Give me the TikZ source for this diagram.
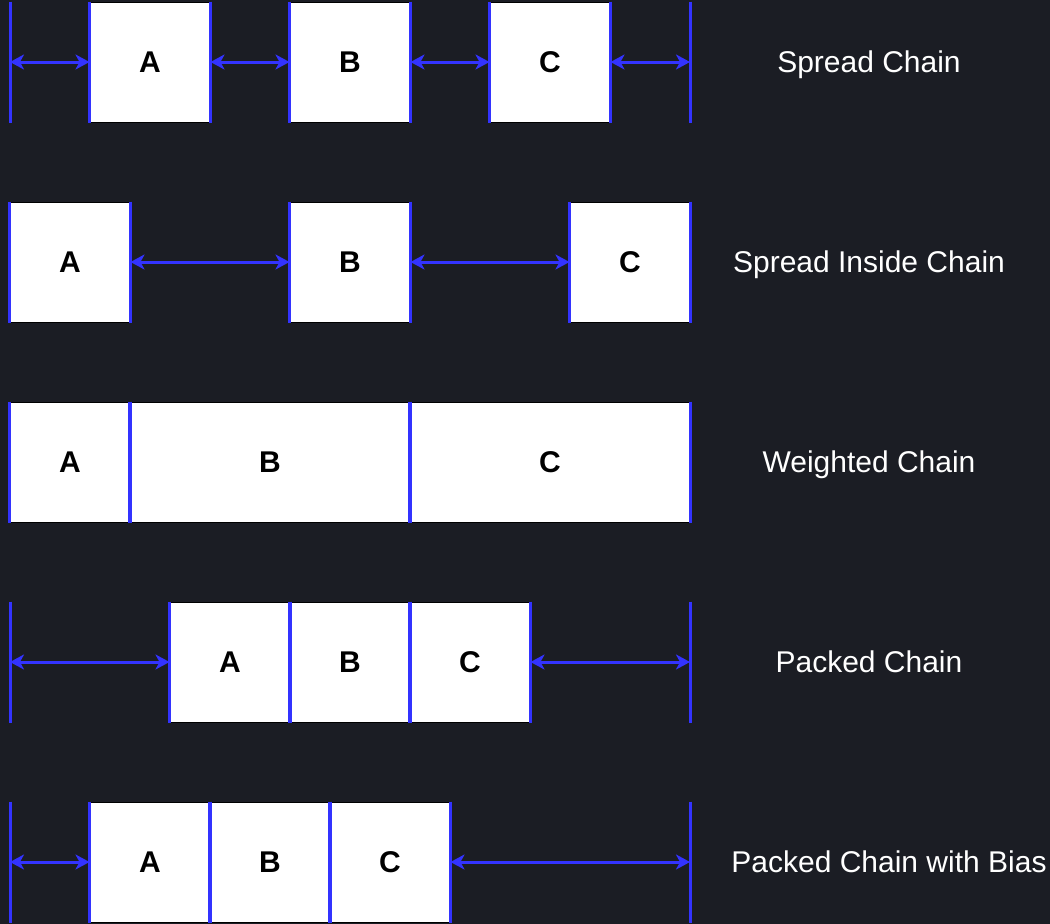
\documentclass[tikz,border=0pt]{standalone}
\usepackage{fontspec}
\setmainfont{Liberation Sans}
\usetikzlibrary{arrows.meta}
\definecolor{bgdark}{RGB}{27,29,36}
\definecolor{guideblue}{RGB}{51,51,255}

\begin{document}
\begin{tikzpicture}[x=1pt,y=-1pt]
	\tikzset{
		chainbox/.style={draw=black,line width=1pt,fill=white,inner sep=0pt,
			minimum width=120pt,minimum height=120pt,
			font=\fontsize{30}{36}\selectfont\bfseries},
		wall/.style={draw=guideblue,line width=3pt},
		spring/.style={draw=guideblue,line width=3pt,
			{Stealth[length=14pt,width=15pt,inset=4pt]}-{Stealth[length=14pt,width=15pt,inset=4pt]}},
		chainlabel/.style={text=white,anchor=base,font=\fontsize{30}{36}\selectfont}
	}

	\fill[bgdark] (0,0) rectangle (1050,924);
	\useasboundingbox (0,0) rectangle (1050,924);

	% spread
	\node[chainbox] (a1) at (150,62) {A};
	\node[chainbox] (b1) at (350,62) {B};
	\node[chainbox] (c1) at (550,62) {C};
	\coordinate (l1) at (10,62);
	\coordinate (r1) at (690,62);
	\draw[wall] (l1 |- a1.north) -- (l1 |- a1.south);
	\draw[wall] (r1 |- c1.north) -- (r1 |- c1.south);
	\draw[spring] (l1) -- (a1.west);
	\draw[spring] (a1.east) -- (b1.west);
	\draw[spring] (b1.east) -- (c1.west);
	\draw[spring] (c1.east) -- (r1);
	\node[chainlabel] (t1) at (869,72.5) {Spread Chain};

	% spread inside
	\node[chainbox] (a2) at (70,262) {A};
	\node[chainbox] (b2) at (350,262) {B};
	\node[chainbox] (c2) at (630,262) {C};
	\draw[spring] (a2.east) -- (b2.west);
	\draw[spring] (b2.east) -- (c2.west);
	\node[chainlabel] (t2) at (869,272.5) {Spread Inside Chain};

	% weighted
	\node[chainbox] (a3) at (70,462) {A};
	\node[chainbox,minimum width=280pt] (b3) at (270,462) {B};
	\node[chainbox,minimum width=280pt] (c3) at (550,462) {C};
	\node[chainlabel] (t3) at (869,472.5) {Weighted Chain};

	% packed
	\node[chainbox] (a4) at (230,662) {A};
	\node[chainbox] (b4) at (350,662) {B};
	\node[chainbox] (c4) at (470,662) {C};
	\coordinate (l4) at (10,662);
	\coordinate (r4) at (690,662);
	\draw[wall] (l4 |- a4.north) -- (l4 |- a4.south);
	\draw[wall] (r4 |- c4.north) -- (r4 |- c4.south);
	\draw[spring] (l4) -- (a4.west);
	\draw[spring] (c4.east) -- (r4);
	\node[chainlabel] (t4) at (869,672.5) {Packed Chain};

	% packed with bias
	\node[chainbox] (a5) at (150,862) {A};
	\node[chainbox] (b5) at (270,862) {B};
	\node[chainbox] (c5) at (390,862) {C};
	\coordinate (l5) at (10,862);
	\coordinate (r5) at (690,862);
	\draw[wall] (l5 |- a5.north) -- (l5 |- a5.south);
	\draw[wall] (r5 |- c5.north) -- (r5 |- c5.south);
	\draw[spring] (l5) -- (a5.west);
	\draw[spring] (c5.east) -- (r5);
	\node[chainlabel] (t5) at (889,872.5) {Packed Chain with Bias};

	% box edges
	\foreach \n in {a1,b1,c1,a2,b2,c2,a3,b3,c3,a4,b4,c4,a5,b5,c5}
		\draw[wall] (\n.north west) -- (\n.south west) (\n.north east) -- (\n.south east);

\end{tikzpicture}
\end{document}
